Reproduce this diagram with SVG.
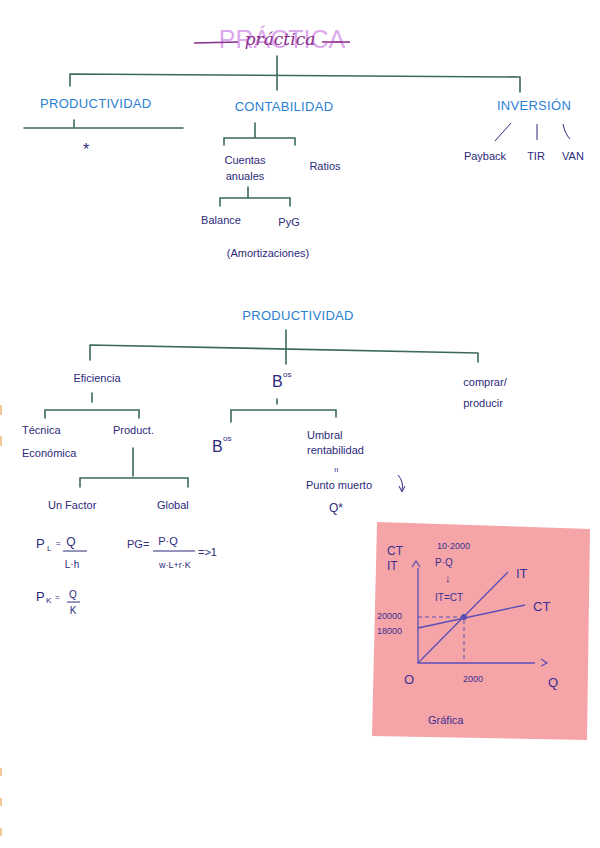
<svg xmlns="http://www.w3.org/2000/svg" width="600" height="848" viewBox="0 0 600 848">
<style>
.h{font-family:"Liberation Sans",Arial,sans-serif;font-size:13px;fill:#2a7fd2;letter-spacing:0.3px}
.t{font-family:"Liberation Sans",Arial,sans-serif;font-size:11px;fill:#2c2a7c}
.s{font-family:"Liberation Sans",Arial,sans-serif;font-size:8px;fill:#2c2a7c}
.c{stroke:#3b6a5c;stroke-width:1.6;fill:none;stroke-linecap:round}
.g{stroke:#5a4fb4;stroke-width:1.3;fill:none}
.gt{font-family:"Liberation Sans",Arial,sans-serif;fill:#3a3090}
</style>
<rect width="600" height="848" fill="#ffffff"/>
<g id="edge-marks" fill="#f2c79a">
<rect x="0" y="405" width="2" height="10"/><rect x="0" y="436" width="2" height="10"/>
<rect x="0" y="768" width="2" height="8"/><rect x="0" y="798" width="2" height="8"/><rect x="0" y="828" width="2" height="8"/>
</g>
<g id="title">
<text x="282" y="48" text-anchor="middle" font-family="Liberation Sans,Arial,sans-serif" font-size="25" fill="#dca8ee">PRÁCTICA</text>
<path d="M194 43 L238 42 M322 42 L350 42" stroke="#8a2f8c" stroke-width="1.3" fill="none"/>
<text x="280" y="45" text-anchor="middle" font-family="DejaVu Serif,serif" font-style="italic" font-size="17" fill="#8a2f8c">práctica</text>
</g>
<g id="connectors">
<path class="c" d="M277 56 V74 M70 74 L520 77 M70 74 V86 M277 74 V90 M520 77 V92"/>
<path class="c" d="M74 120 V127 M24 128 H183"/>
<path class="c" d="M255 123 V138 M224 145 V138 H295 V145"/>
<path class="c" d="M248 187 V198 M220 206 V198 H290 V206"/>
<path d="M511 123 L495 141 M537 124 V140 M563 124 Q565 134 570 139" stroke="#2c2a7c" stroke-width="1" fill="none"/>
<path class="c" d="M286 330 V364 M90 345 L478 353 M90 345 V360 M478 353 V362"/>
<path class="c" d="M92 393 V402 M45 418 V410 H139 V418"/>
<path class="c" d="M133 448 V476 M80 487 V478 H188 V487"/>
<path class="c" d="M277 399 V404 M231 422 V410 H336 V417"/>
</g>
<g id="top-tree">
<text class="h" x="40" y="108">PRODUCTIVIDAD</text>
<text class="t" x="86" y="155" text-anchor="middle" style="font-size:16px">*</text>
<text class="h" x="284" y="111" text-anchor="middle">CONTABILIDAD</text>
<text class="t" x="245" y="164" text-anchor="middle">Cuentas</text>
<text class="t" x="245" y="180" text-anchor="middle">anuales</text>
<text class="t" x="325" y="170" text-anchor="middle">Ratios</text>
<text class="t" x="221" y="224" text-anchor="middle">Balance</text>
<text class="t" x="289" y="226" text-anchor="middle">PyG</text>
<text class="t" x="268" y="257" text-anchor="middle">(Amortizaciones)</text>
<text class="h" x="534" y="110" text-anchor="middle">INVERSIÓN</text>
<text class="t" x="485" y="160" text-anchor="middle">Payback</text>
<text class="t" x="536" y="160" text-anchor="middle">TIR</text>
<text class="t" x="573" y="160" text-anchor="middle">VAN</text>
</g>
<g id="middle-tree">
<text class="h" x="298" y="320" text-anchor="middle">PRODUCTIVIDAD</text>
<text class="t" x="97" y="382" text-anchor="middle">Eficiencia</text>
<text class="t" x="272" y="387" style="font-size:16px">B</text><text class="s" x="283" y="377">os</text>
<text class="t" x="485" y="386" text-anchor="middle">comprar/</text>
<text class="t" x="483" y="407" text-anchor="middle">producir</text>
<text class="t" x="22" y="434">Técnica</text>
<text class="t" x="22" y="457">Económica</text>
<text class="t" x="113" y="434">Product.</text>
<text class="t" x="48" y="509">Un Factor</text>
<text class="t" x="157" y="509">Global</text>
<text class="t" x="212" y="452" style="font-size:16px">B</text><text class="s" x="223" y="441">os</text>
<text class="t" x="307" y="439">Umbral</text>
<text class="t" x="307" y="454">rentabilidad</text>
<text class="s" x="334" y="472">ıı</text>
<text class="t" x="306" y="489">Punto muerto</text>
<path d="M398 475 Q404 482 402 490 M399 486 L402 492 L405 486" stroke="#2c2a7c" stroke-width="1" fill="none"/>
<text class="t" x="336" y="512" text-anchor="middle" style="font-size:12px">Q*</text>
</g>
<g id="formulas">
<text class="t" x="36" y="548" style="font-size:13px">P</text><text class="s" x="47" y="551">L</text><text class="s" x="56" y="546">=</text>
<text class="t" x="71" y="546" text-anchor="middle" style="font-size:12px">Q</text>
<path d="M63 551 H87" stroke="#2c2a7c" stroke-width="1"/>
<text class="t" x="72" y="568" text-anchor="middle" style="font-size:10px">L·h</text>
<text class="t" x="127" y="548">PG=</text>
<text class="t" x="168" y="545" text-anchor="middle">P·Q</text>
<path d="M153 551 H195" stroke="#2c2a7c" stroke-width="1"/>
<text class="t" x="175" y="568" text-anchor="middle" style="font-size:9px">w·L+r·K</text>
<text class="t" x="198" y="556">=&gt;1</text>
<text class="t" x="36" y="601" style="font-size:13px">P</text><text class="s" x="46" y="603">K</text><text class="s" x="55" y="600">=</text>
<text class="t" x="73" y="598" text-anchor="middle" style="font-size:10px">Q</text>
<path d="M67 602 H80" stroke="#2c2a7c" stroke-width="1"/>
<text class="t" x="73" y="614" text-anchor="middle" style="font-size:10px">K</text>
</g>
<g id="grafica">
<polygon points="377,522 590,529 587,740 372,736" fill="#f5a4a8"/>
<text class="gt" x="387" y="555" font-size="12">CT</text>
<text class="gt" x="387" y="570" font-size="12">IT</text>
<path class="g" d="M418 568 V663 H535 M412 567 L416 561 L420 567 M541 659 L547 663 L541 666"/>
<path class="g" d="M418 663 L508 572 M418 628 L525 605"/>
<path d="M418 617 H464 V663" stroke="#5a4fb4" stroke-width="1" stroke-dasharray="4 3" fill="none"/>
<circle cx="464" cy="617" r="3" fill="#5a4fb4"/>
<text class="gt" x="437" y="549" font-size="9">10·2000</text>
<text class="gt" x="435" y="566" font-size="10">P·Q</text>
<text class="gt" x="445" y="582" font-size="11">↓</text>
<text class="gt" x="435" y="601" font-size="10">IT=CT</text>
<text class="gt" x="516" y="578" font-size="13">IT</text>
<text class="gt" x="533" y="611" font-size="13">CT</text>
<text class="gt" x="377" y="619" font-size="9">20000</text>
<text class="gt" x="377" y="634" font-size="9">18000</text>
<text class="gt" x="404" y="684" font-size="13">O</text>
<text class="gt" x="473" y="682" font-size="9" text-anchor="middle">2000</text>
<text class="gt" x="548" y="687" font-size="13">Q</text>
<text class="gt" x="428" y="724" font-size="11">Gráfica</text>
</g>
</svg>
